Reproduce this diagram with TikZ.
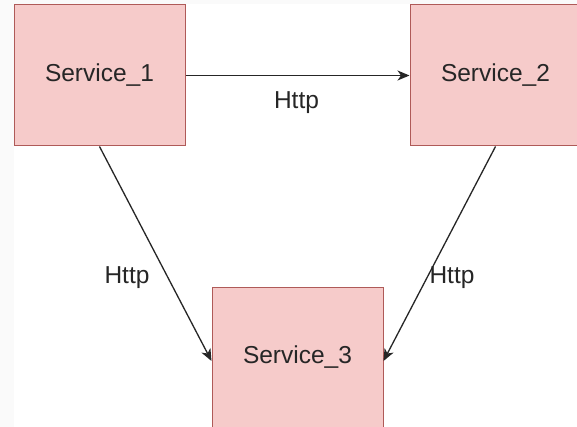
\documentclass[tikz,border=0pt]{standalone}
\usepackage{fontspec}
\setmainfont{Liberation Sans}
\usetikzlibrary{arrows.meta}
\definecolor{svcfill}{HTML}{F6CBCA}
\definecolor{svcline}{HTML}{AF5A58}
\definecolor{pagebg}{HTML}{FAFAFA}
\definecolor{ink}{HTML}{262626}
\tikzset{
  service/.style={draw=svcline, line width=1pt, fill=svcfill,
    minimum width=171pt, minimum height=141pt, inner sep=0pt,
    text=ink, font=\fontsize{24.5}{28}\selectfont},
  link/.style={draw=ink, line width=1.3pt,
    -{Stealth[length=12pt,width=10pt,inset=3.5pt]}},
  linklabel/.style={text=ink, font=\fontsize{24.5}{28}\selectfont, inner sep=0pt}
}
\begin{document}
\begin{tikzpicture}[x=1pt,y=-1pt]
  % page and canvas
  \fill[pagebg] (0,0) rectangle (577,427);
  \useasboundingbox (0,0) rectangle (577,427);
  \clip (0,0) rectangle (577,427);
  \fill[white] (14,4) rectangle (577,427);

  % services
  \node[service] (s1) at (99.5,75.5) {Service\_1};
  \node[service] (s2) at (495.5,75.5) {Service\_2};
  \node[service] (s3) at (297.5,357.5) {Service\_3};

  % calls between services
  \draw[link] (s1.east) -- (s2.west);
  \draw[link] (s1.south) -- ([yshift=-3.5pt]s3.west);
  \draw[link] (s2.south) -- ([yshift=-3.5pt]s3.east);

  % labels
  \node[linklabel] (l12) at (296.5,103) {Http};
  \node[linklabel] (l13) at (127,278) {Http};
  \node[linklabel] (l23) at (452,278) {Http};
\end{tikzpicture}
\end{document}
